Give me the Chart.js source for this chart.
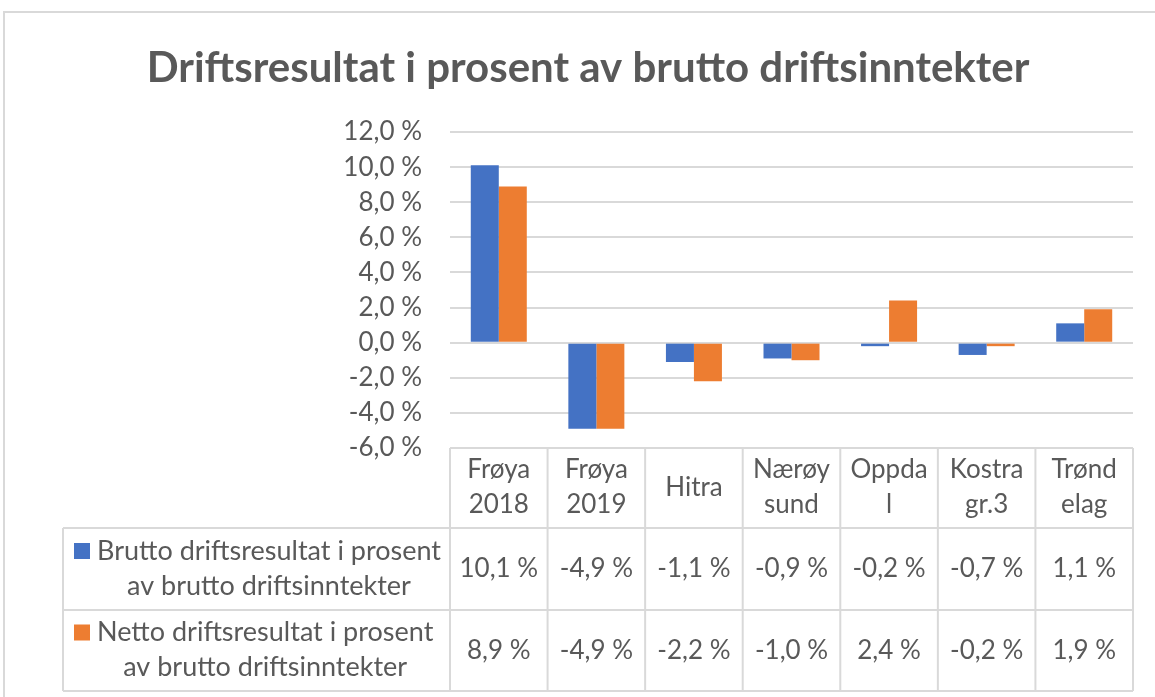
<!DOCTYPE html>
<html>
<head>
<meta charset="utf-8">
<script src="https://cdn.jsdelivr.net/npm/chart.js@4.4.1/dist/chart.umd.min.js"></script>
<style>
	body { margin: 0; background: #fff; }
	#wrap { width: 1155px; height: 697px; }
</style>
</head>
<body>
<div id="wrap"><canvas id="driftChart" width="1155" height="697"></canvas></div>
<script>
// kategorier (linjeskift som i tabellen)
const categories = [["Frøya", "2018"], ["Frøya", "2019"], ["Hitra"], ["Nærøy", "sund"], ["Oppda", "l"], ["Kostra", "gr.3"], ["Trønd", "elag"]];
const seriesNames = [
	["Brutto driftsresultat i prosent", "av brutto driftsinntekter"],
	["Netto driftsresultat i prosent", "av brutto driftsinntekter"]
];
const bruttoValues = [10.1, -4.9, -1.1, -0.9, -0.2, -0.7, 1.1];
const nettoValues = [8.9, -4.9, -2.2, -1.0, 2.4, -0.2, 1.9];
const yMin = -6;
const yMax = 12;
const yStep = 2;

const titleText = "Driftsresultat i prosent av brutto driftsinntekter";
const textColor = '#595959';
const lineColor = '#D9D9D9';
const seriesColors = ['#4472C4', '#ED7D31'];
const fontFamily = 'Lato, "Open Sans", sans-serif';

// norsk prosentformat: 12,0 %
function pct(v) {
	return v.toFixed(1).replace('.', ',') + ' %';
}

const frameAndTitle = {
	id: 'frameAndTitle',
	afterDraw(chart) {
		const {ctx} = chart;
		ctx.save();
		// ramme rundt diagrammet
		ctx.strokeStyle = lineColor;
		ctx.lineWidth = 2;
		ctx.beginPath();
		ctx.moveTo(4, chart.height);
		ctx.lineTo(4, 12);
		ctx.lineTo(chart.width, 12);
		ctx.stroke();

		ctx.font = 'bold 42px ' + fontFamily;
		ctx.fillStyle = textColor;
		ctx.textAlign = 'center';
		ctx.textBaseline = 'middle';
		ctx.fillText(titleText, 588, 68);
		ctx.restore();
	}
};

const dataTable = {
	id: 'dataTable',
	afterDraw(chart) {
		const {ctx, chartArea, scales: {x}} = chart;
		const colW = (chartArea.right - chartArea.left) / categories.length;
		const headTop = chartArea.bottom;
		const rowTops = [528, 610, 691];
		const legendLeft = 63;

		ctx.save();
		ctx.strokeStyle = lineColor;
		ctx.lineWidth = 2;
		ctx.beginPath();
		ctx.moveTo(chartArea.left, headTop);
		ctx.lineTo(chartArea.right, headTop);
		for (let y of rowTops) {
			ctx.moveTo(legendLeft, y);
			ctx.lineTo(chartArea.right, y);
		}
		for (let i = 0; i <= categories.length; i++) {
			let cx = chartArea.left + i * colW;
			ctx.moveTo(cx, headTop);
			ctx.lineTo(cx, rowTops[2]);
		}
		ctx.moveTo(legendLeft, rowTops[0]);
		ctx.lineTo(legendLeft, rowTops[2]);
		ctx.stroke();

		ctx.font = '26px ' + fontFamily;
		ctx.fillStyle = textColor;
		ctx.textAlign = 'center';
		ctx.textBaseline = 'middle';

		// kolonneoverskrifter
		const headMid = (headTop + rowTops[0]) / 2;
		categories.forEach((lines, i) => {
			const cx = x.getPixelForValue(i);
			if (lines.length === 1) {
				ctx.fillText(lines[0], cx, headMid);
			} else {
				ctx.fillText(lines[0], cx, headMid - 18);
				ctx.fillText(lines[1], cx, headMid + 17);
			}
		});

		// verdirader med forklaring
		[bruttoValues, nettoValues].forEach((values, r) => {
			const mid = (rowTops[r] + rowTops[r + 1]) / 2;
			ctx.font = '26px ' + fontFamily;
			values.forEach((v, i) => {
				ctx.fillText(pct(v), x.getPixelForValue(i), mid);
			});

			const y1 = mid - 18;
			const y2 = mid + 17;
			ctx.fillStyle = seriesColors[r];
			ctx.fillRect(legendLeft + 11, y1 - 8, 16, 16);
			ctx.fillStyle = textColor;
			ctx.font = '27px ' + fontFamily;
			const textLeft = legendLeft + 34;
			const w1 = ctx.measureText(seriesNames[r][0]).width;
			ctx.textAlign = 'left';
			ctx.fillText(seriesNames[r][0], textLeft, y1);
			ctx.textAlign = 'center';
			ctx.fillText(seriesNames[r][1], textLeft + w1 / 2, y2);
		});
		ctx.restore();
	}
};

let ctx = document.getElementById('driftChart').getContext('2d');
let driftChart = new Chart(ctx, {
	type: 'bar',
	data: {
		labels: categories,
		datasets: [{
			label: seriesNames[0].join(' '),
			data: bruttoValues,
			backgroundColor: seriesColors[0],
			categoryPercentage: 0.574,
			barPercentage: 1.0
		}, {
			label: seriesNames[1].join(' '),
			data: nettoValues,
			backgroundColor: seriesColors[1],
			categoryPercentage: 0.574,
			barPercentage: 1.0
		}]
	},
	options: {
		responsive: false,
		animation: false,
		layout: {
			padding: { top: 132, bottom: 249, left: 21, right: 22 }
		},
		plugins: {
			legend: { display: false },
			tooltip: { enabled: false },
			title: { display: false }
		},
		scales: {
			x: {
				display: false,
				offset: true
			},
			y: {
				min: yMin,
				max: yMax,
				ticks: {
					stepSize: yStep,
					padding: 28,
					color: textColor,
					font: { family: fontFamily, size: 26 },
					callback: (v) => pct(v)
				},
				grid: {
					color: lineColor,
					lineWidth: 2,
					drawTicks: false
				},
				border: { display: false },
				afterFit(scale) {
					scale.width = 429;
				}
			}
		}
	},
	plugins: [frameAndTitle, dataTable]
});
</script>
</body>
</html>
